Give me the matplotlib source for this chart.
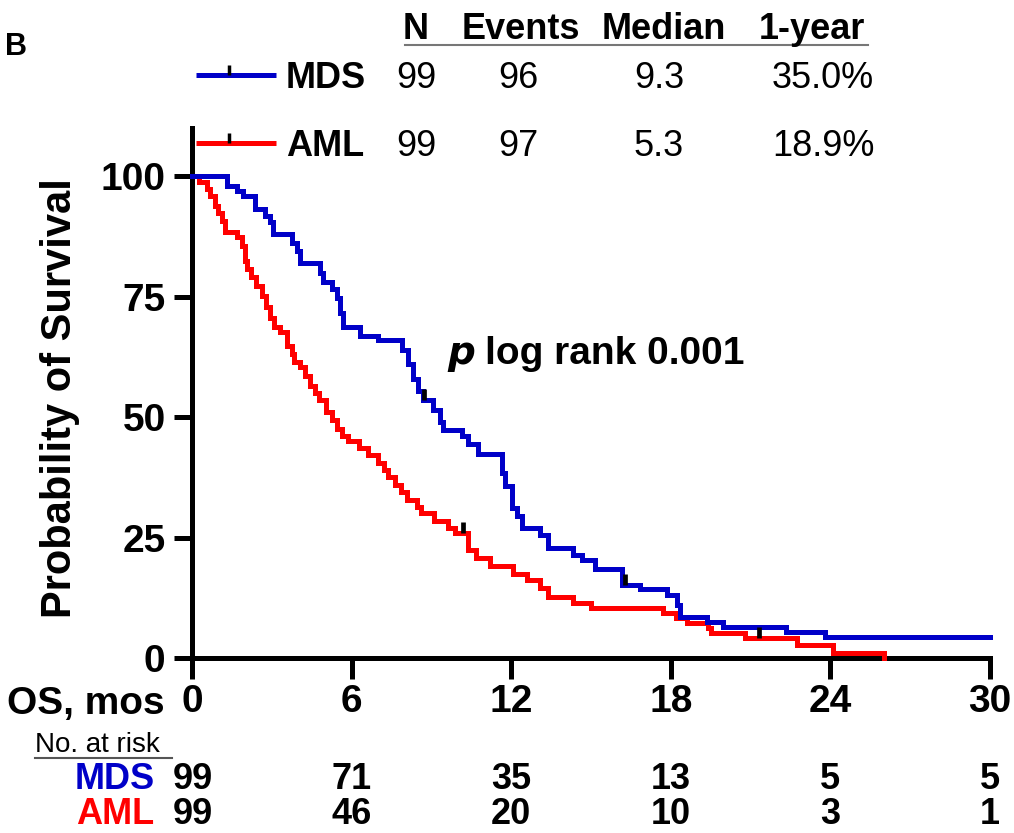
import numpy as np
import matplotlib
matplotlib.use('Agg')
import matplotlib.pyplot as plt
from matplotlib.lines import Line2D

plt.rcParams['font.family'] = ['Liberation Sans', 'DejaVu Sans']

W, H = 1014, 833

# Kaplan-Meier steps: time (months) and survival (%) after each step
mds_t = [0, 1.32, 1.69, 1.92, 2.37, 2.74, 2.93, 3.05, 3.76, 3.95,
         4.06, 4.81, 4.92, 5.26, 5.45, 5.56, 5.68, 6.32, 6.99, 7.89,
         8.12, 8.31, 8.50, 8.68, 9.06, 9.32, 9.44, 10.15, 10.38, 10.75,
         11.65, 11.77, 12.03, 12.22, 12.41, 13.08, 13.38, 14.32, 14.66, 15.15,
         16.17, 16.84, 17.86, 18.23, 18.35, 19.36, 19.96, 22.33, 23.80, 30.0]
mds_s = [100, 98.0, 96.9, 95.9, 93.1, 91.7, 90.4, 87.9, 86.2, 84.5,
         82.0, 80.0, 78.0, 76.5, 74.8, 71.7, 68.7, 66.8, 66.0, 64.0,
         61.0, 58.0, 55.5, 53.6, 51.5, 49.0, 47.4, 46.0, 44.5, 42.4,
         38.5, 35.6, 31.2, 29.4, 27.0, 25.6, 22.8, 21.4, 20.4, 18.5,
         15.2, 14.3, 13.1, 11.0, 8.6, 7.5, 6.5, 5.5, 4.3, 4.3]

aml_t = [0, 0.26, 0.56, 0.68, 0.86, 0.98, 1.13, 1.24, 1.69, 1.88,
         1.99, 2.07, 2.22, 2.41, 2.63, 2.78, 2.93, 3.08, 3.31, 3.57,
         3.76, 3.83, 4.06, 4.25, 4.44, 4.62, 4.78, 5.04, 5.26, 5.45,
         5.64, 5.86, 6.28, 6.62, 6.99, 7.21, 7.37, 7.63, 7.86, 8.08,
         8.46, 8.61, 9.10, 9.62, 9.89, 10.38, 10.68, 11.2, 12.05, 12.6,
         13.08, 13.38, 14.32, 15.0, 17.7, 18.2, 18.6, 19.4, 19.5, 20.8,
         22.75, 24.1, 26.0]
aml_s = [100, 98.8, 97.3, 95.8, 93.8, 92.3, 90.6, 88.4, 87.3, 85.5,
         82.5, 80.8, 79.0, 77.3, 75.1, 72.8, 70.5, 68.7, 67.6, 64.7,
         63.0, 61.5, 60.5, 58.5, 56.5, 55.0, 53.6, 51.0, 49.5, 47.5,
         46.0, 45.0, 43.5, 42.2, 40.5, 39.0, 37.5, 36.0, 34.5, 32.8,
         31.4, 30.1, 28.4, 27.0, 26.0, 22.5, 20.8, 19.0, 17.5, 16.2,
         14.5, 12.7, 11.4, 10.4, 9.4, 8.3, 7.3, 6.3, 5.2, 4.2,
         2.7, 1.0, 0.0]

# censored observations (months)
mds_cens = [8.72, 16.28]
aml_cens = [10.2, 21.3]

groups = ['MDS', 'AML']
colors = ['#0000C8', '#FF0000']
n_pts = [99, 99]
events = [96, 97]
medians = [9.3, 5.3]
one_year = [35.0, 18.9]

risk_times = [0, 6, 12, 18, 24, 30]
mds_risk = [99, 71, 35, 13, 5, 5]
aml_risk = [99, 46, 20, 10, 3, 1]


def px(x, y):
    return x / W, 1 - y / H


def level_at(t, s, c):
    i = np.searchsorted(t, c, side='right') - 1
    return s[i]


fig = plt.figure(figsize=(W / 100, H / 100), dpi=100)
ax = fig.add_axes([192 / W, 1 - 658 / H, 798 / W, 530 / H])

curves = [(aml_t, aml_s, aml_cens, colors[1]), (mds_t, mds_s, mds_cens, colors[0])]
for t, s, cens, col in curves:
    ax.step(t, s, where='post', color=col, lw=3.6, clip_on=False,
            solid_joinstyle='miter', zorder=3)
for t, s, cens, col in curves:
    for c in cens:
        y = level_at(t, s, c)
        ax.plot([c, c], [y, y + 2.2], color='black', lw=3.4,
                solid_capstyle='butt', clip_on=False, zorder=4)

ax.set_xlim(0, 30)
ax.set_ylim(0, 110)
ax.set_xticks(risk_times)
ax.set_yticks([0, 25, 50, 75, 100])
for side in ['top', 'right']:
    ax.spines[side].set_visible(False)
for side in ['left', 'bottom']:
    ax.spines[side].set_linewidth(3.6)
    ax.spines[side].set_capstyle('projecting')
ax.tick_params(axis='x', length=15, width=3.6, pad=4, labelsize=28)
ax.tick_params(axis='y', length=13, width=3.6, pad=6, labelsize=28)
for lab in ax.get_xticklabels() + ax.get_yticklabels():
    lab.set_fontweight('bold')

fig.text(*px(60, 398), 'Probability of Survival', rotation=90, fontsize=30,
         fontweight='bold', ha='center', va='center')
fig.text(*px(165, 714), 'OS, mos', fontsize=28, fontweight='bold',
         ha='right', va='baseline')
fig.text(*px(447, 364), r'$\mathbfit{p}$', fontsize=28, ha='left', va='baseline')
fig.text(*px(485, 364), 'log rank 0.001', fontsize=28, fontweight='bold',
         ha='left', va='baseline')

# panel letter and summary table
fig.text(*px(5, 55), 'B', fontsize=22, fontweight='bold', ha='left', va='baseline')
col_x = [416, 521, 664, 812]
headers = ['N', 'Events', 'Median', '1-year']
for x, h in zip(col_x, headers):
    fig.text(*px(x, 39), h, fontsize=26, fontweight='bold', ha='center', va='baseline')
fig.add_artist(Line2D([405 / W, 868 / W], [1 - 45 / H] * 2, color='#777777', lw=1.5))

row_y = [75, 143]
for i, g in enumerate(groups):
    y = row_y[i]
    fig.add_artist(Line2D([196 / W, 276 / W], [1 - y / H] * 2, color=colors[i],
                          lw=3.6, solid_capstyle='butt'))
    fig.add_artist(Line2D([229 / W, 229 / W], [1 - y / H, 1 - (y - 10) / H],
                          color='black', lw=2.5, solid_capstyle='butt'))
    base = y + 13
    fig.text(*px(286, base), g, fontsize=26, fontweight='bold', ha='left', va='baseline')
    vals = [str(n_pts[i]), str(events[i]), f'{medians[i]:.1f}', f'{one_year[i]:.1f}%']
    for x, v in zip([416, 518, 659, 823], vals):
        fig.text(*px(x, base), v, fontsize=26, ha='center', va='baseline')

# number at risk table
fig.text(*px(35, 752), 'No. at risk', fontsize=20, ha='left', va='baseline')
fig.add_artist(Line2D([35 / W, 172 / W], [1 - 758 / H] * 2, color='#555555', lw=1.5))
risk_rows = [(mds_risk, 789), (aml_risk, 824)]
for i, (counts, yb) in enumerate(risk_rows):
    fig.text(*px(115, yb), groups[i], fontsize=26, fontweight='bold',
             color=colors[i], ha='center', va='baseline')
    for t, n in zip(risk_times, counts):
        xf = (192 + t * 798 / 30) / W
        if t == 0:
            xf = 193 / W
        fig.text(xf, 1 - yb / H, str(n), fontsize=26, fontweight='bold',
                 ha='center', va='baseline')

fig.savefig('out.png', dpi=100)
